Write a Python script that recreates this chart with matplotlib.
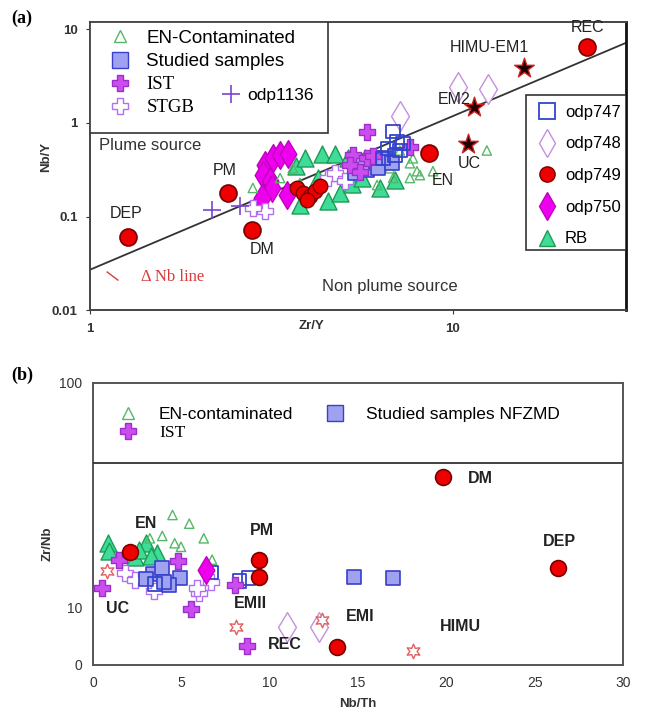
import matplotlib.pyplot as plt
from matplotlib.lines import Line2D
from matplotlib.patches import Rectangle

# ---------------- panel (a): Nb/Y vs Zr/Y ----------------
en_cont_x = [2.81, 3.34, 3.62, 6.18, 6.84, 7.61, 8.11, 7.61, 7.96, 8.81, 12.4, 7.14, 7.76, 6.70, 3.79]
en_cont_y = [0.202, 0.258, 0.328, 0.217, 0.258, 0.258, 0.277, 0.371, 0.305, 0.305, 0.508, 0.508, 0.419, 0.328, 0.228]
studied_x = [5.37, 5.80, 6.21, 6.50, 6.10, 5.61, 6.79]
studied_y = [0.29, 0.313, 0.328, 0.419, 0.419, 0.371, 0.371]
ist_x = [5.80, 5.30, 5.80, 6.02, 5.20, 7.61, 5.55]
ist_y = [0.807, 0.45, 0.419, 0.44, 0.353, 0.56, 0.30]
stgb_x = [4.53, 3.03, 2.81, 4.73, 5.04]
stgb_y = [0.258, 0.115, 0.124, 0.29, 0.24]
odp1136_x = [2.17, 2.59]
odp1136_y = [0.118, 0.13]
odp747_x = [6.84, 7.01, 7.14, 6.62, 7.28, 6.41, 6.92]
odp747_y = [0.807, 0.632, 0.508, 0.533, 0.602, 0.419, 0.45]
odp748_x = [10.3, 12.5, 7.14]
odp748_y = [2.41, 2.3, 1.19]
odp749_x = [3.72, 3.86, 4.04, 4.17, 4.3, 3.96]
odp749_y = [0.202, 0.179, 0.166, 0.188, 0.212, 0.151]
odp750_x = [3.03, 3.19, 3.34, 3.51, 3.0, 3.13, 3.17, 2.98, 3.49]
odp750_y = [0.353, 0.42, 0.45, 0.47, 0.277, 0.239, 0.202, 0.158, 0.17]
rb_x = [3.69, 3.91, 4.36, 4.73, 5.14, 3.79, 4.53, 4.88, 5.27, 5.61, 6.29, 6.92, 4.25, 5.72]
rb_y = [0.344, 0.419, 0.47, 0.47, 0.419, 0.133, 0.147, 0.179, 0.222, 0.258, 0.202, 0.245, 0.258, 0.419]

# reference reservoirs (a)
ref_circ_names = ["REC", "EN", "PM", "DM", "DEP"]
ref_circ_x = [23.4, 8.6, 2.4, 2.79, 1.27]
ref_circ_y = [6.5, 0.48, 0.18, 0.071, 0.06]
ref_star_names = ["HIMU-EM1", "EM2", "UC"]
ref_star_x = [15.7, 11.4, 11.0]
ref_star_y = [3.9, 1.48, 0.59]
ref_lab_a = {"REC": (23.5, 10.4), "HIMU-EM1": (12.6, 6.4), "EM2": (10.1, 1.8),
             "UC": (11.1, 0.37), "EN": (9.4, 0.245), "PM": (2.35, 0.31),
             "DM": (2.98, 0.044), "DEP": (1.26, 0.107)}
dnb_x = [1, 30]
dnb_y = [0.027, 7.2]

# ---------------- panel (b): Zr/Nb vs Nb/Th ----------------
b_en_cont_x = [4.5, 5.45, 6.27, 3.92, 4.62, 4.98, 6.74, 3.22]
b_en_cont_y = [25.9, 23.7, 20.4, 20.9, 19.4, 18.7, 16.4, 20.4]
b_studied_x = [14.8, 17.0, 3.4, 3.9, 4.9, 4.3, 3.0, 4.0]
b_studied_y = [13.8, 13.6, 14.1, 15.0, 13.6, 12.7, 13.4, 13.0]
b_odp747_x = [8.3, 8.8, 6.7, 3.5]
b_odp747_y = [13.2, 13.6, 14.4, 12.8]
b_ist_x = [0.52, 1.46, 4.79, 5.52, 8.03, 8.69]
b_ist_y = [12.3, 16.4, 16.1, 9.8, 12.7, 3.4]
b_stgb_x = [1.8, 3.45, 6.0, 6.7, 2.4, 5.9]
b_stgb_y = [14.3, 11.9, 11.7, 13.0, 13.3, 12.3]
b_odp750_x = [6.4]
b_odp750_y = [14.8]
b_odp748_x = [11.0, 12.8]
b_odp748_y = [6.6, 6.6]
b_rb_x = [0.87, 0.9, 2.4, 3.0, 3.6, 2.6, 3.3]
b_rb_y = [19.4, 18.0, 16.9, 19.4, 17.5, 18.1, 17.0]
b_circ_x = [19.8, 26.3, 9.37, 9.37, 2.09, 13.8]
b_circ_y = [38.1, 15.0, 16.4, 13.8, 17.8, 3.2]
b_hex_x = [0.82, 8.07, 12.96, 18.1]
b_hex_y = [14.6, 6.7, 7.9, 2.5]
ref_lab_b = {"DM": (21.9, 37.6), "DEP": (26.4, 19.7), "PM": (9.55, 22.0),
             "EN": (3.03, 23.7), "UC": (1.38, 9.9), "EMII": (8.9, 10.5),
             "REC": (10.85, 3.66), "EMI": (15.1, 8.5), "HIMU": (20.8, 6.7)}

# styles
GREEN_F, GREEN_E = "#3ddc97", "#1f9a55"
SQ_F, SQ_E = "#9fa2f0", "#3a3fcc"
IST_F, IST_E = "#cc4cf0", "#9a30c8"
STGB_E = "#b070f0"
RED_F, RED_E = "#ee0000", "#7a0000"
sty = {
    "en_cont": dict(marker="^", facecolor="none", edgecolor="#55b866", s=45, linewidths=1.0),
    "studied": dict(marker="s", facecolor=SQ_F, edgecolor=SQ_E, s=95, linewidths=1.2),
    "ist": dict(marker="P", facecolor=IST_F, edgecolor=IST_E, s=140, linewidths=1.0),
    "stgb": dict(marker="P", facecolor="white", edgecolor=STGB_E, s=140, linewidths=1.0),
    "odp1136": dict(marker="+", color="#7a44d0", s=160, linewidths=1.2),
    "odp747": dict(marker="s", facecolor="none", edgecolor="#3344cc", s=95, linewidths=1.3),
    "odp748": dict(marker="d", facecolor="white", edgecolor="#c690dc", s=230, linewidths=1.0),
    "odp749": dict(marker="o", facecolor=RED_F, edgecolor=RED_E, s=110, linewidths=1.0),
    "odp750": dict(marker="d", facecolor="#ee00ee", edgecolor="#c000c0", s=200, linewidths=1.0),
    "rb": dict(marker="^", facecolor=GREEN_F, edgecolor=GREEN_E, s=150, linewidths=1.0),
}

fig = plt.figure(figsize=(6.49, 7.2), dpi=100)
plt.rcParams['font.family'] = ['Liberation Sans', 'DejaVu Sans']
SERIF = ['Liberation Serif', 'DejaVu Serif']

# ======== (a) ========
ax = fig.add_axes([0.1387, 0.5694, 0.826, 0.40])
ax.set_xscale('log')
ax.set_yscale('log')
ax.set_xlim(1, 30)
ax.set_ylim(0.01, 12)

ax.plot(dnb_x, dnb_y, color="#333333", lw=1.3, zorder=1)
ax.scatter(odp750_x, odp750_y, zorder=3, **sty["odp750"])
ax.scatter(rb_x, rb_y, zorder=3, **sty["rb"])
ax.scatter(en_cont_x, en_cont_y, zorder=3, **sty["en_cont"])
ax.scatter(odp749_x, odp749_y, zorder=4, **sty["odp749"])
ax.scatter(stgb_x, stgb_y, zorder=3, **sty["stgb"])
ax.scatter(studied_x, studied_y, zorder=3, **sty["studied"])
ax.scatter(ist_x, ist_y, zorder=3, **sty["ist"])
ax.scatter(odp747_x, odp747_y, zorder=4, **sty["odp747"])
ax.scatter(odp748_x, odp748_y, zorder=3, **sty["odp748"])
ax.scatter(odp1136_x, odp1136_y, zorder=3, **sty["odp1136"])
ax.scatter(ref_circ_x, ref_circ_y, marker="o", facecolor=RED_F, edgecolor=RED_E,
           s=150, linewidths=1.2, zorder=5)
ax.scatter(ref_star_x, ref_star_y, marker="*", facecolor="#200000", edgecolor="#d02020",
           s=220, linewidths=1.0, zorder=5)
for name, (tx, ty) in ref_lab_a.items():
    ax.text(tx, ty, name, fontsize=11.5, color="#222222", ha="center", va="center", zorder=6)

ax.text(0.112, 0.573, "Plume source", transform=ax.transAxes, fontsize=12,
        color="#333333", ha="center", va="center")
ax.text(0.56, 0.08, "Non plume source", transform=ax.transAxes, fontsize=12,
        color="#333333", ha="center", va="center")
ax.text(0.155, 0.115, "\u0394 Nb line", transform=ax.transAxes, fontsize=12,
        color="#d83c3c", family=SERIF, ha="center", va="center")
ax.plot([0.032, 0.052], [0.132, 0.104], transform=ax.transAxes, color="#d83c3c", lw=1)

# left legend box
ax.add_patch(Rectangle((0, 0.615), 0.444, 0.385, transform=ax.transAxes, facecolor="white",
                       edgecolor="#333333", lw=1.2, zorder=7))
h1 = [Line2D([], [], ls="none", marker="^", mfc="none", mec="#55b866", ms=9),
      Line2D([], [], ls="none", marker="s", mfc=SQ_F, mec=SQ_E, ms=11),
      Line2D([], [], ls="none", marker="P", mfc=IST_F, mec=IST_E, ms=12),
      Line2D([], [], ls="none", marker="P", mfc="white", mec=STGB_E, ms=12)]
leg1 = ax.legend(h1, ["EN-Contaminated", "Studied samples", "IST", "STGB"],
                 loc="upper left", bbox_to_anchor=(0.0, 1.025), frameon=False, fontsize=13.5,
                 handletextpad=0.6, labelspacing=0.32, handlelength=1.6, borderpad=0.3)
leg1.set_zorder(8)
for t in leg1.get_texts()[2:]:
    t.set_fontfamily(SERIF)
ax.add_artist(leg1)
h2 = [Line2D([], [], ls="none", marker="+", color="#7a44d0", ms=13, mew=1.2)]
leg2 = ax.legend(h2, ["odp1136"], loc="center left", bbox_to_anchor=(0.215, 0.745),
                 frameon=False, fontsize=12.5, handletextpad=0.3, handlelength=1.2)
leg2.set_zorder(8)
ax.add_artist(leg2)

# right legend box
ax.add_patch(Rectangle((0.813, 0.208), 0.187, 0.539, transform=ax.transAxes, facecolor="white",
                       edgecolor="#333333", lw=1.2, zorder=7))
h3 = [Line2D([], [], ls="none", marker="s", mfc="none", mec="#3344cc", ms=12, mew=1.3),
      Line2D([], [], ls="none", marker="d", mfc="white", mec="#c690dc", ms=14),
      Line2D([], [], ls="none", marker="o", mfc=RED_F, mec=RED_E, ms=11),
      Line2D([], [], ls="none", marker="d", mfc="#ee00ee", mec="#c000c0", ms=14),
      Line2D([], [], ls="none", marker="^", mfc=GREEN_F, mec=GREEN_E, ms=12)]
leg3 = ax.legend(h3, ["odp747", "odp748", "odp749", "odp750", "RB"], loc="upper left",
                 bbox_to_anchor=(0.805, 0.765), frameon=False, fontsize=12,
                 handletextpad=0.4, labelspacing=1.0, handlelength=1.3)
leg3.set_zorder(8)

ax.set_xticks([1, 10])
ax.set_xticklabels(["1", "10"])
ax.set_yticks([0.01, 0.1, 1, 10])
ax.set_yticklabels(["0.01", "0.1", "1", "10"])
ax.minorticks_off()
ax.tick_params(labelsize=9.5, colors="#333333", length=3, pad=6)
for t in ax.get_xticklabels() + ax.get_yticklabels():
    t.set_fontweight("bold")
ax.set_xlabel("Zr/Y", fontsize=9.5, fontweight="bold", color="#333333")
ax.xaxis.set_label_coords(0.414, -0.035)
ax.set_ylabel("Nb/Y", fontsize=9.5, fontweight="bold", color="#333333")
ax.yaxis.set_label_coords(-0.07, 0.53)
for s in ax.spines.values():
    s.set_color("#444444")
    s.set_linewidth(1.4)
ax.spines["right"].set_color("#111111")
ax.spines["right"].set_linewidth(2)

# ======== (b) ========
bx = fig.add_axes([0.1433, 0.0764, 0.8167, 0.3917])
bx.set_yscale('symlog', linthresh=10, linscale=0.228)
bx.set_xlim(0, 30)
bx.set_ylim(0, 100)

bx.scatter(b_rb_x, b_rb_y, zorder=3, **sty["rb"])
bx.scatter(b_en_cont_x, b_en_cont_y, zorder=3, **sty["en_cont"])
bx.scatter(b_stgb_x, b_stgb_y, zorder=3, **sty["stgb"])
bx.scatter(b_studied_x, b_studied_y, zorder=3, **sty["studied"])
bx.scatter(b_odp747_x, b_odp747_y, zorder=3, **sty["odp747"])
bx.scatter(b_ist_x, b_ist_y, zorder=4, **sty["ist"])
bx.scatter(b_odp750_x, b_odp750_y, zorder=4, **sty["odp750"])
bx.scatter(b_odp748_x, b_odp748_y, zorder=3, **sty["odp748"])
bx.scatter(b_circ_x, b_circ_y, marker="o", facecolor=RED_F, edgecolor=RED_E,
           s=130, linewidths=1.2, zorder=5)
bx.scatter(b_hex_x, b_hex_y, marker=(6, 1, 0), facecolor="white", edgecolor="#e06060",
           s=110, linewidths=1.0, zorder=5)
for name, (tx, ty) in ref_lab_b.items():
    bx.text(tx, ty, name, fontsize=11.5, fontweight="bold", color="#222222",
            ha="center", va="center", zorder=6)

bx.axhline(44, color="#333333", lw=1.3, zorder=7)
hb = [Line2D([], [], ls="none", marker="^", mfc="none", mec="#55b866", ms=8),
      Line2D([], [], ls="none", marker="P", mfc=IST_F, mec=IST_E, ms=12),
      Line2D([], [], ls="none", marker="s", mfc=SQ_F, mec=SQ_E, ms=11)]
legb = bx.legend(hb, ["EN-contaminated", "IST", "Studied samples NFZMD"], ncol=2,
                 loc="upper left", bbox_to_anchor=(0.01, 0.97), frameon=False, fontsize=12.5,
                 handletextpad=1.0, labelspacing=0.15, columnspacing=1.6, handlelength=1.6)
legb.get_texts()[1].set_fontfamily(SERIF)

bx.set_xticks([0, 5, 10, 15, 20, 25, 30])
bx.set_yticks([0, 10, 100])
bx.set_yticklabels(["0", "10", "100"])
bx.yaxis.set_minor_locator(plt.NullLocator())
bx.tick_params(labelsize=10, colors="#333333", length=0, pad=8)
bx.set_xlabel("Nb/Th", fontsize=9.5, fontweight="bold", color="#333333", labelpad=6)
bx.set_ylabel("Zr/Nb", fontsize=9.5, fontweight="bold", color="#333333")
bx.yaxis.set_label_coords(-0.075, 0.43)
for s in bx.spines.values():
    s.set_color("#555555")
    s.set_linewidth(1.4)

fig.text(0.018, 0.975, "(a)", fontsize=13, fontweight="bold", family=SERIF, va="center")
fig.text(0.018, 0.478, "(b)", fontsize=13, fontweight="bold", family=SERIF, va="center")

fig.savefig("out.png", dpi=100)
